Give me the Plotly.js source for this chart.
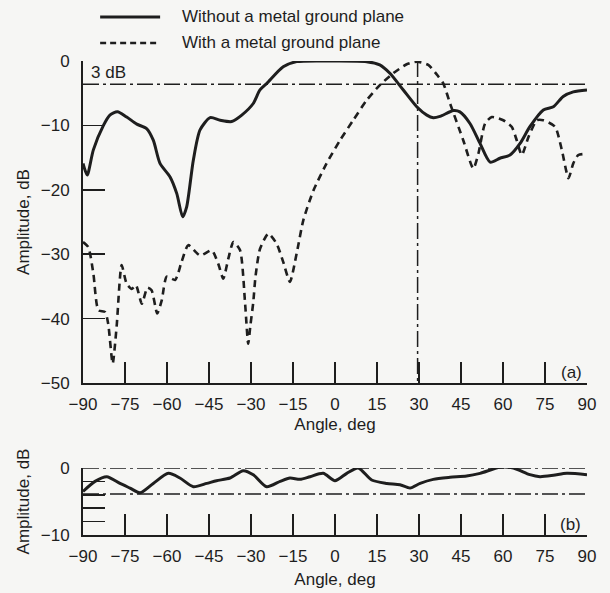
<!DOCTYPE html>
<html>
<head>
<meta charset="utf-8">
<script src="https://cdn.plot.ly/plotly-3.0.1.min.js"></script>
<style>
html,body{margin:0;padding:0;background:#f6f6f4;}
#chart{width:610px;height:593px;}
</style>
</head>
<body>
<div id="chart"></div>
<script>
// ---- Data ----
const seriesNames = ['Without a metal ground plane', 'With a metal ground plane'];

// (a) without ground plane
const angleA1 = [-90,-88.5,-86.3,-82.7,-80.4,-77.7,-74.4,-70.8,-67.3,-64.9,-62.5,-58.9,-56.5,-54.4,-53,-50.6,-48.2,-44.6,-41,-36.9,-33.3,-29.2,-26.8,-24.4,-18.5,-13.7,-0.7,11.3,16,19.6,24.4,29.2,32.8,35.1,37.5,42.3,44.6,48.2,51.8,55.4,58.9,62.5,66.1,69.6,74.4,78,81.5,85.1,90];
const ampA1   = [-15.9,-17.7,-13.8,-10,-8.4,-7.9,-8.7,-9.8,-10.5,-12.3,-15.9,-18,-20.6,-24.2,-22.7,-15.4,-10.7,-8.8,-9.2,-9.4,-8.4,-6.6,-4.5,-3.5,-0.9,-0.1,0,-0.1,-0.6,-1.9,-4.5,-7.1,-8.4,-8.8,-8.6,-7.7,-7.9,-9.7,-12.8,-15.7,-15.1,-14.6,-12.8,-10.2,-7.6,-7.1,-5.5,-4.8,-4.5];

// (a) with ground plane
const angleA2 = [-90,-88.1,-86.3,-84.5,-82.1,-81,-79.4,-78,-76.2,-74.4,-72.6,-71.1,-69,-67,-65.5,-63.5,-61.9,-60.1,-57.1,-54.8,-52.4,-48.2,-44,-41.7,-39.9,-38.1,-36.3,-33.9,-32.1,-31,-30.2,-29.2,-28.4,-26.8,-23.8,-20.8,-18.5,-16.1,-13.7,-11.3,-7.7,-3,1.8,6.5,11.3,16.1,20.8,25.6,29.2,33.3,36.9,38.7,41.1,45.8,49.4,51.2,53.6,56,60.1,63.1,64.9,66.7,69.1,72.1,74.4,78.6,81,83.4,85.1,86.9,90];
const ampA2   = [-28.1,-28.9,-33,-38.7,-39,-40.8,-47,-41.3,-31.7,-34.6,-35.4,-34.8,-37.7,-35.2,-35.6,-39.2,-37.2,-33.5,-34,-31.2,-28.6,-30.2,-29.4,-31.5,-33.8,-30.7,-28.1,-29.4,-37.7,-43.9,-41,-37.5,-33.5,-29.2,-26.8,-28.4,-31.2,-34.3,-29.9,-24.7,-20.1,-15.9,-12.3,-9.2,-6.1,-3.7,-1.9,-0.5,-0.1,-0.6,-2.4,-3.5,-6.6,-12.3,-16.7,-14.4,-9.7,-8.7,-9.2,-10.2,-12.3,-14.6,-11.8,-9.2,-9.2,-10.2,-13.8,-18.2,-15.9,-14.6,-14.4];

// (b)
const angleB = [-90,-85.7,-81.5,-76.8,-73.2,-69.6,-64.9,-59.5,-55.4,-50.6,-45.8,-42.3,-37.5,-32.8,-29.2,-24.4,-19.6,-16.1,-12.5,-8.9,-4.2,0,4.2,8.3,13.1,18.5,23.2,26.8,30.4,35.1,41.1,47,51.8,58.9,63.7,69.6,73.2,78,82.8,90];
const ampB   = [-3.5,-2.0,-1.3,-2.3,-3.0,-3.7,-2.3,-0.8,-1.5,-2.8,-2.3,-1.9,-1.5,-0.4,-1.0,-2.8,-2.0,-1.5,-1.7,-1.3,-0.8,-1.9,-0.8,0,-1.8,-2.3,-2.5,-3.0,-2.3,-1.7,-1.4,-1.2,-0.8,0.1,0,-1.0,-1.3,-1.1,-0.8,-1.0];

// Axis ticks
const angleTicks = [-90,-75,-60,-45,-30,-15,0,15,30,45,60,75,90];
const ampTicksA = [-50,-40,-30,-20,-10,0];
const ampTicksB = [-10,-8,-6,-4,-2,0];
const ampTickTextB = ['\u221210','','','','','0'];

// Reference levels
const level3dB_A = -3.6;
const markAngleA = 29.5;
const levelsB = [0, -3.9];

// ---- Chart ----
const ink = '#1e1e1e';
const font = {family: 'Liberation Sans, Arial, sans-serif', size: 17, color: ink};
const ddash = '16px,4px,3px,4px';

const traces = [
  {x: angleA1, y: ampA1, xaxis: 'x', yaxis: 'y', mode: 'lines', name: seriesNames[0],
   line: {color: ink, width: 3, shape: 'spline', smoothing: 0.7}, cliponaxis: false},
  {x: angleA2, y: ampA2, xaxis: 'x', yaxis: 'y', mode: 'lines', name: seriesNames[1],
   line: {color: ink, width: 2.6, dash: '7px,5px', shape: 'spline', smoothing: 0.6}, cliponaxis: false},
  {x: angleB, y: ampB, xaxis: 'x2', yaxis: 'y2', mode: 'lines', name: seriesNames[0], showlegend: false,
   line: {color: ink, width: 3, shape: 'spline', smoothing: 0.7}, cliponaxis: false}
];

const xcommon = {
  range: [-90, 90], tickmode: 'array', tickvals: angleTicks,
  ticks: 'inside', ticklen: 21, tickwidth: 1.5, tickcolor: ink,
  showline: true, linewidth: 2, linecolor: ink, showgrid: false, zeroline: false,
  tickfont: font, ticklabelstandoff: 5, fixedrange: true
};
const ycommon = {
  ticks: 'inside', ticklen: 22, tickwidth: 1.5, tickcolor: ink,
  showline: true, linewidth: 2, linecolor: ink, showgrid: false, zeroline: false,
  tickfont: font, ticklabelstandoff: 8, fixedrange: true
};

const shapes = [
  {type: 'line', xref: 'x', yref: 'y', x0: -90, x1: 90, y0: level3dB_A, y1: level3dB_A,
   line: {color: ink, width: 1.5, dash: ddash}},
  {type: 'line', xref: 'x', yref: 'y', x0: markAngleA, x1: markAngleA, y0: 0, y1: -50,
   line: {color: ink, width: 1.5, dash: ddash}},
  ...levelsB.map(v => ({type: 'line', xref: 'x2', yref: 'y2', x0: -90, x1: 90, y0: v, y1: v,
   line: {color: ink, width: 1.5, dash: ddash}})),
  // legend samples
  {type: 'line', xref: 'paper', yref: 'paper', x0: 0.034, x1: 0.153, y0: 1.093, y1: 1.093,
   line: {color: ink, width: 3}},
  {type: 'line', xref: 'paper', yref: 'paper', x0: 0.034, x1: 0.153, y0: 1.038, y1: 1.038,
   line: {color: ink, width: 2.6, dash: '6px,4px'}}
];

const annotations = [
  {xref: 'paper', yref: 'paper', x: 0.1925, y: 1.093, xanchor: 'left', yanchor: 'middle',
   text: seriesNames[0], showarrow: false, font: font},
  {xref: 'paper', yref: 'paper', x: 0.1925, y: 1.038, xanchor: 'left', yanchor: 'middle',
   text: seriesNames[1], showarrow: false, font: font},
  {xref: 'x', yref: 'y', x: -88, y: level3dB_A, xanchor: 'left', yanchor: 'bottom',
   text: '3 dB', showarrow: false, font: font},
  {xref: 'x', yref: 'y', x: 84.5, y: -48.3, xanchor: 'center', yanchor: 'middle',
   text: '(a)', showarrow: false, font: font},
  {xref: 'x2', yref: 'y2', x: 84, y: -8.5, xanchor: 'center', yanchor: 'middle',
   text: '(b)', showarrow: false, font: font}
];

const layout = {
  width: 610, height: 593,
  margin: {l: 83, r: 23, t: 61, b: 58},
  paper_bgcolor: '#f6f6f4', plot_bgcolor: '#f6f6f4',
  font: font, showlegend: false,
  xaxis: Object.assign({}, xcommon, {domain: [0, 1], anchor: 'y',
    title: {text: 'Angle, deg', font: font, standoff: 5}}),
  yaxis: Object.assign({}, ycommon, {domain: [0.3207, 1], anchor: 'x', range: [-50, 0],
    tickmode: 'array', tickvals: ampTicksA,
    title: {text: 'Amplitude, dB', font: font, standoff: 7}}),
  xaxis2: Object.assign({}, xcommon, {domain: [0, 1], anchor: 'y2',
    title: {text: 'Angle, deg', font: font, standoff: 8}}),
  yaxis2: Object.assign({}, ycommon, {domain: [0, 0.1414], anchor: 'x2', range: [-10, 0],
    tickmode: 'array', tickvals: ampTicksB, ticktext: ampTickTextB,
    title: {text: 'Amplitude, dB', font: font, standoff: 7}}),
  shapes: shapes,
  annotations: annotations
};

Plotly.newPlot('chart', traces, layout, {staticPlot: true, displayModeBar: false});
</script>
</body>
</html>
